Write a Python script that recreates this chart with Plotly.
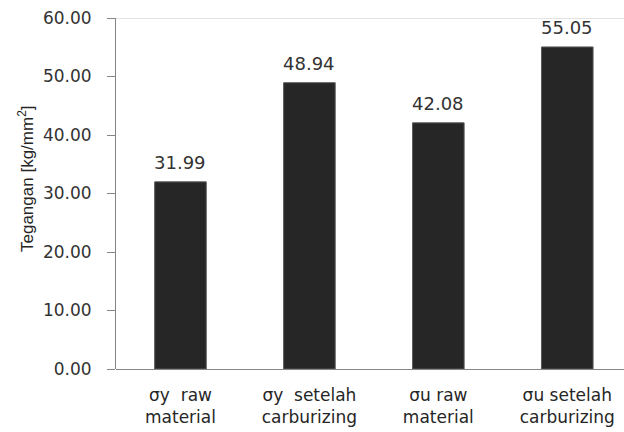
import plotly.graph_objects as go

categories = ["σy\u00a0\u00a0raw<br>material", "σy\u00a0\u00a0setelah<br>carburizing",
              "σu raw<br>material", "σu setelah<br>carburizing"]
values = [31.99, 48.94, 42.08, 55.05]
y_ticks = [0, 10, 20, 30, 40, 50, 60]
y_tick_labels = [f"{v:.2f}" for v in y_ticks]

FONT = "DejaVu Sans"
fig = go.Figure()
fig.add_trace(go.Bar(
    x=list(range(len(categories))), y=values, width=0.4,
    marker=dict(color="#262626", line=dict(color="#595959", width=1)),
    hoverinfo="skip",
))
for i, v in enumerate(values):
    fig.add_annotation(x=i, y=v, text=f"{v:.2f}", showarrow=False,
                       yanchor="bottom", yshift=7,
                       font=dict(family=FONT, size=18, color="#333333"))

fig.add_shape(type="line", xref="paper", yref="y", x0=0, x1=1, y0=60, y1=60,
              line=dict(color="#c8c8c8", width=1))
fig.add_annotation(xref="paper", yref="paper", x=(26 - 116) / 508, y=(369 - 179) / 351,
                   text="Tegangan [kg/mm<sup>2</sup>]", textangle=-90, showarrow=False,
                   xanchor="center", yanchor="middle",
                   font=dict(family="Liberation Sans", size=17, color="#262626"))

fig.update_layout(
    width=624, height=432,
    margin=dict(l=116, r=0, t=18, b=63, pad=0),
    plot_bgcolor="white", paper_bgcolor="white",
    showlegend=False,
    font=dict(family=FONT, size=17, color="#333333"),
)
fig.update_xaxes(
    range=[-0.5, 3.44], tickmode="array", tickvals=list(range(len(categories))),
    ticktext=categories, showgrid=False, zeroline=False,
    showline=False, ticks="", ticklabelstandoff=14,
    tickfont=dict(family=FONT, size=17, color="#262626"),
)
fig.update_yaxes(
    range=[0, 60], tickmode="array", tickvals=y_ticks, ticktext=y_tick_labels,
    showgrid=False, zeroline=True, zerolinecolor="#868686", zerolinewidth=1,
    showline=True, linecolor="#868686", linewidth=1,
    ticks="outside", ticklen=8, tickcolor="#868686", tickwidth=1,
    ticklabelstandoff=12,
    tickfont=dict(family=FONT, size=17, color="#333333"),
)
fig.write_html("out.html")
